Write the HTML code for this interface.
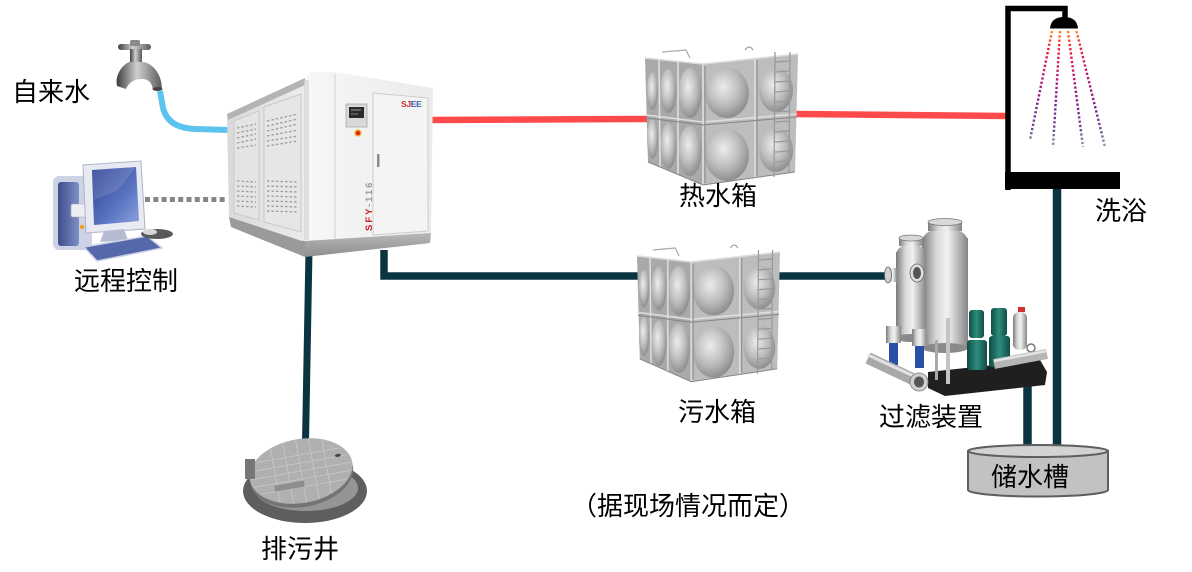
<!DOCTYPE html>
<html><head><meta charset="utf-8"><style>
html,body{margin:0;padding:0;background:#fff;}
svg{display:block;}
.lbl{font-family:"Liberation Sans","Noto Sans CJK SC",sans-serif;font-size:26px;fill:#000;}
</style></head><body>
<svg width="1192" height="572" viewBox="0 0 1192 572" xmlns="http://www.w3.org/2000/svg">
<defs>
<linearGradient id="cylH" x1="0" x2="1" y1="0" y2="0"><stop offset="0" stop-color="#7a7a7a"/><stop offset="0.3" stop-color="#d6d6d6"/><stop offset="0.55" stop-color="#f2f2f2"/><stop offset="1" stop-color="#858585"/></linearGradient>
<linearGradient id="metal" x1="0" x2="1"><stop offset="0" stop-color="#3e3e3e"/><stop offset="0.45" stop-color="#cfcfcf"/><stop offset="1" stop-color="#5a5a5a"/></linearGradient>
<radialGradient id="dome" cx="0.42" cy="0.38" r="0.65"><stop offset="0" stop-color="#ececec"/><stop offset="0.55" stop-color="#bdbdbd"/><stop offset="1" stop-color="#8a8a8a"/></radialGradient>
<linearGradient id="sideG" x1="0" x2="1"><stop offset="0" stop-color="#d9d9d9"/><stop offset="1" stop-color="#ececec"/></linearGradient>
<linearGradient id="frontG" x1="0" x2="1"><stop offset="0" stop-color="#f7f7f7"/><stop offset="1" stop-color="#ebebeb"/></linearGradient>
<linearGradient id="baseG" x1="0" x2="0" y1="0" y2="1"><stop offset="0" stop-color="#b8b8b8"/><stop offset="1" stop-color="#8e8e8e"/></linearGradient>
<linearGradient id="spray" gradientUnits="userSpaceOnUse" x1="0" y1="30" x2="0" y2="148"><stop offset="0" stop-color="#ff8a1c"/><stop offset="0.15" stop-color="#f01d3a"/><stop offset="0.4" stop-color="#c3177a"/><stop offset="0.65" stop-color="#7a2192"/><stop offset="0.85" stop-color="#6f4a98"/><stop offset="1" stop-color="#a0a0a0"/></linearGradient>
<linearGradient id="scr" x1="0" y1="0" x2="1" y2="1"><stop offset="0" stop-color="#2c3f8e"/><stop offset="0.6" stop-color="#5a74c2"/><stop offset="1" stop-color="#8ea2dc"/></linearGradient>
<linearGradient id="tower" x1="0" x2="1"><stop offset="0" stop-color="#3d4c8c"/><stop offset="1" stop-color="#7f8fc6"/></linearGradient>
<linearGradient id="teal" x1="0" x2="1"><stop offset="0" stop-color="#0f4d46"/><stop offset="0.5" stop-color="#2f8c7e"/><stop offset="1" stop-color="#0f4d46"/></linearGradient>

<g id="tank">
 <polygon points="645,58 703,64 703,185 648,162" fill="#a9a9a9"/>
 <polygon points="703,64 798,54 795,172 703,185" fill="#bdbdbd"/>
 <ellipse cx="652.5" cy="91" rx="5.5" ry="19" fill="url(#dome)"/>
 <ellipse cx="668.5" cy="91" rx="8" ry="22" fill="url(#dome)"/>
 <ellipse cx="690" cy="93" rx="11.5" ry="25" fill="url(#dome)"/>
 <ellipse cx="652.5" cy="139" rx="5.5" ry="20" fill="url(#dome)"/>
 <ellipse cx="668.5" cy="146" rx="8" ry="23" fill="url(#dome)"/>
 <ellipse cx="690" cy="151" rx="11.5" ry="25" fill="url(#dome)"/>
 <ellipse cx="727" cy="93" rx="22" ry="25" fill="url(#dome)"/>
 <ellipse cx="727" cy="155" rx="22" ry="26" fill="url(#dome)"/>
 <ellipse cx="776" cy="90" rx="17" ry="22" fill="url(#dome)"/>
 <ellipse cx="776" cy="150" rx="17" ry="22" fill="url(#dome)"/>
 <g stroke="#dedede" stroke-width="1.6" fill="none">
  <polyline points="645,58 703,64 798,54"/>
  <polyline points="646,115 703,122 797,114"/>
  <line x1="659" y1="60" x2="660" y2="167"/>
  <line x1="678" y1="62" x2="678" y2="175"/>
  <line x1="703" y1="64" x2="703" y2="185"/>
  <line x1="755" y1="59" x2="755" y2="178"/>
 </g>
 <g stroke="#858585" stroke-width="1" fill="none">
  <polyline points="646,118 703,125 797,117"/>
  <line x1="705" y1="66" x2="705" y2="183"/>
  <line x1="757" y1="60" x2="757" y2="176"/>
  <polyline points="648,162 703,185 795,172"/>
 </g>
 <g stroke="#9a9a9a" stroke-width="1.3">
  <line x1="775" y1="52" x2="774" y2="177"/>
  <line x1="790" y1="52" x2="789" y2="172"/>
  <line x1="775" y1="62" x2="790" y2="61"/><line x1="775" y1="72" x2="790" y2="71"/>
  <line x1="775" y1="82" x2="790" y2="81"/><line x1="775" y1="92" x2="790" y2="91"/>
  <line x1="775" y1="102" x2="790" y2="101"/><line x1="775" y1="112" x2="790" y2="111"/>
  <line x1="775" y1="122" x2="790" y2="121"/><line x1="775" y1="132" x2="790" y2="131"/>
  <line x1="775" y1="142" x2="790" y2="141"/><line x1="775" y1="152" x2="790" y2="151"/>
  <line x1="775" y1="162" x2="790" y2="161"/>
 </g>
 <path d="M662,52 L686,50 L690,58" stroke="#aaa" stroke-width="1.2" fill="none"/>
 <path d="M745,50 q4,-6 8,0" stroke="#999" stroke-width="1.2" fill="none"/>
</g>
</defs>

<path d="M160,91 L163,108 Q168,128 195,129 L229,130" stroke="#5cc3ee" stroke-width="6" fill="none"/>
<line x1="145" y1="199.5" x2="228" y2="199.5" stroke="#858585" stroke-width="5" stroke-dasharray="5 3.3"/>
<line x1="430" y1="120" x2="648" y2="119" stroke="#ff4a4c" stroke-width="6.5"/>
<line x1="795" y1="114" x2="1007" y2="116" stroke="#ff4a4c" stroke-width="6.5"/>
<g stroke="#0b3441" fill="none" stroke-linejoin="miter">
 <line x1="309" y1="250" x2="305.5" y2="442" stroke-width="7"/>
 <polyline points="384,250 384,276 642,276" stroke-width="7.5"/>
 <line x1="776" y1="276" x2="894" y2="276" stroke-width="7.5"/>
 <line x1="1027.5" y1="368" x2="1027.5" y2="452" stroke-width="8.5"/>
 <line x1="1057" y1="186" x2="1057" y2="452" stroke-width="8.5"/>
</g>

<g>
 <rect x="118" y="44" width="33" height="6" rx="3" fill="url(#metal)"/>
 <rect x="130" y="40" width="10" height="6" rx="2" fill="#8a8a8a"/>
 <rect x="130" y="49" width="12" height="15" fill="url(#metal)"/>
 <path d="M129,62 C121,66 115,76 117,86 L126,89 C129,82 135,79 142,79 C149,79 152,83 153,90 L162,90 C162,76 155,65 144,62 Z" fill="url(#metal)"/>
 <ellipse cx="157.5" cy="89" rx="5" ry="2" fill="#444"/>
</g>

<g>
 <rect x="53" y="176" width="39" height="74" rx="6" fill="#cdd2e4"/>
 <rect x="58" y="182" width="21" height="64" rx="3" fill="url(#tower)"/>
 <rect x="71" y="204" width="20" height="13" rx="2" fill="#eceef4" stroke="#aab" stroke-width="0.6"/>
 <circle cx="82" cy="227" r="2.2" fill="#f0a020"/>
 <polygon points="83,165 141,161 145,229 86,233" fill="#e8eaf2" stroke="#aeb3c9" stroke-width="1"/>
 <polygon points="92,170 136,167 139,221 94,225" fill="url(#scr)"/>
 <polygon points="92,170 136,167 118,190 94,200" fill="#ffffff" opacity="0.12"/>
 <polygon points="104,231 124,229 128,240 100,242" fill="#b6bbd2"/>
 <polygon points="84,247 147,236 162,248 97,261" fill="#5668ac" stroke="#cdd1e4" stroke-width="1.5"/>
 <ellipse cx="157" cy="234" rx="16" ry="5" fill="#5a5a5a"/>
 <ellipse cx="150" cy="232" rx="7" ry="3" fill="#d8d8d8"/>
</g>

<g>
 <polygon points="227,114 305,78 305,242 229,217" fill="url(#sideG)"/>
 <polygon points="227,114 305,78 305,85 228,120" fill="#b4b4b4"/>
 <polygon points="229,217 305,242 305,257 231,227" fill="#9a9a9a"/>
 <polygon points="234,121 259,111 259,220 234,213" fill="#e4e4e4" stroke="#c9c9c9" stroke-width="1"/>
 <polygon points="264,107 301,94 301,232 264,222" fill="#e6e6e6" stroke="#c9c9c9" stroke-width="1"/>
 <g stroke="#9b9b9b" stroke-width="1.3" stroke-dasharray="2.5 2">
  <line x1="237" y1="128" x2="256" y2="124"/><line x1="237" y1="133" x2="256" y2="129"/>
  <line x1="237" y1="138" x2="256" y2="134"/><line x1="237" y1="143" x2="256" y2="139"/>
  <line x1="237" y1="148" x2="256" y2="145"/>
  <line x1="237" y1="181" x2="256" y2="182"/><line x1="237" y1="186" x2="256" y2="187"/>
  <line x1="237" y1="191" x2="256" y2="192"/><line x1="237" y1="196" x2="256" y2="197"/>
  <line x1="237" y1="201" x2="256" y2="202"/><line x1="237" y1="206" x2="256" y2="207"/>
  <line x1="267" y1="121" x2="298" y2="114"/><line x1="267" y1="126" x2="298" y2="119"/>
  <line x1="267" y1="131" x2="298" y2="124"/><line x1="267" y1="136" x2="298" y2="130"/>
  <line x1="267" y1="141" x2="298" y2="136"/><line x1="267" y1="146" x2="298" y2="141"/>
  <line x1="267" y1="181" x2="298" y2="182"/><line x1="267" y1="186" x2="298" y2="187"/>
  <line x1="267" y1="191" x2="298" y2="192"/><line x1="267" y1="196" x2="298" y2="197"/>
  <line x1="267" y1="201" x2="298" y2="202"/><line x1="267" y1="206" x2="298" y2="207"/>
  <line x1="267" y1="211" x2="298" y2="212"/>
 </g>
 <path d="M305,82 Q305,72 316,72 L335,72 L433,88 L431,233 L305,241 Z" fill="url(#frontG)"/>
 <rect x="304" y="80" width="5" height="160" fill="#d4d4d4" opacity="0.7"/>
 <line x1="335" y1="74" x2="335" y2="239" stroke="#d6d6d6" stroke-width="1.2"/>
 <polygon points="305,241 431,233 430,243 305,257" fill="url(#baseG)"/>
 <polygon points="373,93 428,98 428,231 373,235" fill="#f4f4f4" stroke="#cdcdcd" stroke-width="1"/>
 <rect x="377" y="154" width="2.5" height="13" fill="#8a8a8a"/>
 <rect x="346" y="104" width="21" height="23" fill="#d8d8d8" stroke="#a8a8a8" stroke-width="0.8"/>
 <rect x="349" y="107" width="15" height="11" fill="#2b2b2b"/>
 <line x1="351" y1="110" x2="361" y2="110" stroke="#bbb" stroke-width="0.8"/>
 <line x1="351" y1="114" x2="358" y2="114" stroke="#999" stroke-width="0.8"/>
 <circle cx="358" cy="133" r="3.6" fill="#f1b62a"/>
 <circle cx="358" cy="133" r="2.3" fill="#e0241e"/>
 <text x="401" y="107" font-family="Liberation Sans, sans-serif" font-size="8.5" font-weight="bold" letter-spacing="-0.3"><tspan fill="#d42a2a">SJ</tspan><tspan fill="#3c5aa8">EE</tspan></text>
 <text transform="translate(372,231) rotate(-90)" font-family="Liberation Sans, sans-serif" font-size="9.5" font-weight="bold" letter-spacing="2"><tspan fill="#c8202a">SFY</tspan><tspan fill="#9a9a9a">-116</tspan></text>
 <circle cx="303" cy="243" r="2" fill="none" stroke="#999" stroke-width="0.8"/>
 <circle cx="313" cy="243" r="2" fill="none" stroke="#999" stroke-width="0.8"/>
</g>

<use href="#tank"/>
<use href="#tank" transform="translate(637,252) scale(0.9346,0.99) translate(-645,-54)"/>

<g>
 <polyline points="1008,190 1008,8.5 1065,8.5 1065,19" stroke="#000" stroke-width="5.5" fill="none"/>
 <path d="M1050,28.5 Q1051,17 1064,17 Q1077,17 1078,28.5 Z" fill="#000"/>
 <rect x="1005" y="172" width="115" height="17" fill="#000"/>
 <g stroke="url(#spray)" stroke-width="2.4" stroke-dasharray="2.3 2" fill="none">
  <line x1="1052" y1="31" x2="1030" y2="140"/>
  <line x1="1060" y1="31" x2="1053" y2="147"/>
  <line x1="1068" y1="31" x2="1083" y2="147"/>
  <line x1="1076.5" y1="31" x2="1105" y2="147"/>
 </g>
</g>

<g>
 <polygon points="928,372 1040,360 1047,372 1045,385 945,396 928,388" fill="#1f1f1f"/>
 <rect x="922" y="238" width="46" height="110" fill="url(#cylH)"/>
 <ellipse cx="945" cy="348" rx="23" ry="5" fill="#8a8a8a"/>
 <path d="M922,241 Q924,229 945,228 Q966,229 968,241 Z" fill="url(#cylH)"/>
 <rect x="928" y="222" width="34" height="9" fill="url(#cylH)"/>
 <ellipse cx="945" cy="222" rx="17" ry="3.5" fill="#d8d8d8" stroke="#777" stroke-width="0.8"/>
 <rect x="896" y="252" width="30" height="86" fill="url(#cylH)"/>
 <ellipse cx="911" cy="338" rx="15" ry="4" fill="#8a8a8a"/>
 <path d="M896,254 Q898,245 911,244 Q924,245 926,254 Z" fill="url(#cylH)"/>
 <rect x="899" y="238" width="24" height="8" fill="url(#cylH)"/>
 <ellipse cx="911" cy="238" rx="12" ry="3" fill="#d8d8d8" stroke="#777" stroke-width="0.8"/>
 <rect x="888" y="268" width="9" height="14" fill="url(#cylH)"/>
 <ellipse cx="888" cy="275" rx="3.5" ry="8" fill="#d0d0d0" stroke="#666" stroke-width="0.8"/>
 <ellipse cx="917" cy="273" rx="7" ry="9" fill="#dedede" stroke="#666" stroke-width="0.8"/>
 <ellipse cx="917" cy="273" rx="4" ry="6" fill="#555"/>
 <rect x="946" y="318" width="4" height="66" fill="#c4c4c4"/>
 <rect x="935" y="340" width="3" height="40" fill="#aaa"/>
 <rect x="886" y="326" width="15" height="17" fill="url(#cylH)"/>
 <rect x="889" y="343" width="9" height="22" fill="#2b4ea6"/>
 <rect x="912" y="329" width="15" height="17" fill="url(#cylH)"/>
 <rect x="915" y="346" width="9" height="22" fill="#2b4ea6"/>
 <line x1="868" y1="358" x2="921" y2="383" stroke="#a9a9a9" stroke-width="12"/>
 <line x1="868" y1="355" x2="920" y2="379" stroke="#e2e2e2" stroke-width="3"/>
 <ellipse cx="919" cy="382" rx="9" ry="9" fill="#cfcfcf" stroke="#777" stroke-width="0.8"/>
 <ellipse cx="919" cy="382" rx="5" ry="5.5" fill="#555"/>
 <rect x="969" y="310" width="15" height="28" rx="3" fill="url(#teal)"/>
 <rect x="967" y="340" width="20" height="30" rx="3" fill="url(#teal)"/>
 <rect x="991" y="308" width="16" height="28" rx="3" fill="url(#teal)"/>
 <rect x="989" y="336" width="21" height="31" rx="3" fill="url(#teal)"/>
 <rect x="1013" y="312" width="14" height="38" rx="6" fill="url(#cylH)"/>
 <rect x="1018" y="307" width="7" height="5" fill="#d03030"/>
 <circle cx="1031" cy="348" r="4" fill="none" stroke="#777" stroke-width="1.5"/>
 <line x1="994" y1="364" x2="1047" y2="354" stroke="#b5b5b5" stroke-width="10"/>
 <line x1="994" y1="361" x2="1047" y2="351" stroke="#e4e4e4" stroke-width="2.5"/>
</g>

<g>
 <ellipse cx="305" cy="491" rx="62" ry="32" fill="#5e5e5e"/>
 <ellipse cx="306" cy="488" rx="52" ry="23" fill="#959595"/>
 <g transform="rotate(-10 301 471)">
  <ellipse cx="301" cy="475" rx="52" ry="32" fill="#747474"/>
  <ellipse cx="301" cy="471" rx="52" ry="32" fill="#b0b0b0"/>
  <g stroke="#c8c8c8" stroke-width="0.8">
   <line x1="260" y1="455" x2="342" y2="455"/><line x1="252" y1="463" x2="350" y2="463"/>
   <line x1="250" y1="471" x2="352" y2="471"/><line x1="252" y1="479" x2="350" y2="479"/>
   <line x1="258" y1="487" x2="344" y2="487"/>
   <line x1="275" y1="443" x2="275" y2="498"/><line x1="288" y1="440" x2="288" y2="502"/>
   <line x1="301" y1="439" x2="301" y2="503"/><line x1="314" y1="440" x2="314" y2="502"/>
   <line x1="327" y1="443" x2="327" y2="498"/>
  </g>
  <rect x="272" y="481" width="30" height="6" fill="#8d8d8d"/>
  <ellipse cx="340" cy="462" rx="3" ry="1.5" fill="#444"/>
 </g>
 <rect x="245" y="459" width="10" height="20" fill="#777"/>
</g>

<g stroke="#5e5e5e" stroke-width="2">
 <path d="M968,451 L968,490 A70,6.5 0 0 0 1108,490 L1108,451 Z" fill="#c2c2c2"/>
 <ellipse cx="1038" cy="451" rx="70" ry="6" fill="#d3d3d3"/>
</g>

<text class="lbl" x="12" y="101">自来水</text>
<text class="lbl" x="74" y="290">远程控制</text>
<text class="lbl" x="679" y="205">热水箱</text>
<text class="lbl" x="1095" y="220">洗浴</text>
<text class="lbl" x="678" y="421">污水箱</text>
<text class="lbl" x="879" y="426">过滤装置</text>
<text class="lbl" x="991" y="486">储水槽</text>
<text class="lbl" x="571" y="515">（据现场情况而定）</text>
<text class="lbl" x="261" y="558">排污井</text>
</svg>
</body></html>
